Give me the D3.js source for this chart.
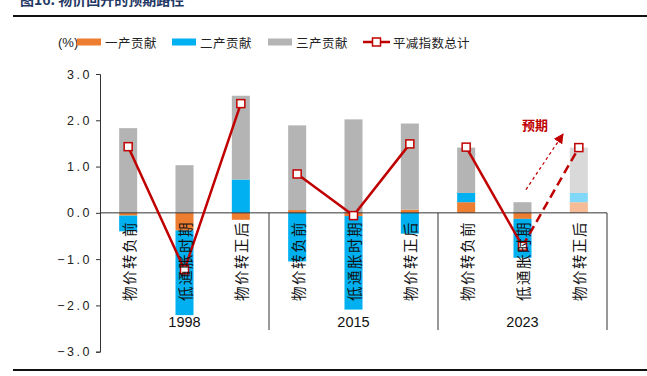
<!DOCTYPE html>
<html><head><meta charset="utf-8">
<script src="https://cdn.jsdelivr.net/npm/d3@7"></script>
<style>
html,body{margin:0;padding:0;background:#fff;}
svg{display:block;}
</style></head>
<body>
<script>
const categories = ["物价转负前","低通胀时期","物价转正后","物价转负前","低通胀时期","物价转正后","物价转负前","低通胀时期","物价转正后"];
const groups = ["1998","2015","2023"];
const primary   = [-0.06, -0.38, -0.15, 0.06, -0.07, 0.07, 0.23, -0.13, 0.23];
const secondary = [-0.34, -1.83,  0.72,-1.05, -2.02,-0.45, 0.20, -0.84, 0.20];
const tertiary  = [ 1.83,  1.03,  1.81, 1.83,  2.02, 1.86, 0.98,  0.23, 0.98];
const deflator  = [ 1.43, -1.23,  2.36, 0.84, -0.06, 1.49, 1.42, -0.72, 1.41];
const yTicks = [-3,-2,-1,0,1,2,3];
const seriesNames = ["一产贡献","二产贡献","三产贡献"];
const lineName = "平减指数总计";
const forecastIndex = 8;
const perGroup = 3;

const W=647,H=376;
const svg=d3.select("body").append("svg").attr("width",W).attr("height",H);
const RED="#C00000";
const colors=["#ED7D31","#00B0F0","#B4B4B4"];
const lightColors=["#F6BC98","#80D7F7","#D9D9D9"];
const cjk="'Noto Sans CJK SC','Noto Sans',sans-serif";

// title
svg.append("text").attr("x",20).attr("y",5).attr("font-family",cjk).attr("font-weight","bold")
  .attr("font-size",14).attr("fill","#1F3864").text("图16:  物价回升的预期路径");
svg.append("line").attr("x1",13).attr("x2",W).attr("y1",16).attr("y2",16).attr("stroke","#111").attr("stroke-width",2);
svg.append("line").attr("x1",13).attr("x2",W).attr("y1",370).attr("y2",370).attr("stroke","#111").attr("stroke-width",2);

const x=d3.scaleBand().domain(d3.range(categories.length)).range([100,607]).paddingInner(0.68).paddingOuter(0.34);
const y=d3.scaleLinear().domain([-3,3]).range([351.7,74]);

// stack
const rows=categories.map((c,i)=>({i,a:primary[i],b:secondary[i],c:tertiary[i]}));
const stack=d3.stack().keys(["a","b","c"]).offset(d3.stackOffsetDiverging)(rows);
stack.forEach((s,k)=>{
  svg.append("g").selectAll("rect").data(s).join("rect")
    .attr("x",d=>x(d.data.i)).attr("width",x.bandwidth())
    .attr("y",d=>y(Math.max(d[0],d[1]))).attr("height",d=>Math.abs(y(d[0])-y(d[1])))
    .attr("fill",d=>d.data.i===forecastIndex?lightColors[k]:colors[k]);
});

// axis
const ax=svg.append("g").attr("transform","translate(100,0)")
  .call(d3.axisLeft(y).tickValues(yTicks).tickSize(4).tickPadding(6).tickFormat(d=>d3.format(".1f")(d)));
ax.select(".domain").attr("stroke","#333");
ax.selectAll(".tick line").attr("stroke","#333");
ax.selectAll("text").attr("font-family","'Liberation Sans',Arial,sans-serif").attr("font-size",12.5)
  .attr("fill","#222").attr("letter-spacing","2.5px").attr("dx","2");

// zero line and separators
svg.append("line").attr("x1",100).attr("x2",x.range()[1]).attr("y1",y(0)).attr("y2",y(0)).attr("stroke","#333").attr("stroke-width",1);
const step=x.step();
[3,6,9].forEach(n=>{
  const xx=100+n*step;
  svg.append("line").attr("x1",xx).attr("x2",xx).attr("y1",y(0)).attr("y2",330).attr("stroke","#333").attr("stroke-width",1);
});

// line (segmented per group; last segment dashed = forecast)
const cx=i=>x(i)+x.bandwidth()/2;
const lineGen=d3.line().x(d=>cx(d.i)).y(d=>y(d.v));
const pts=deflator.map((v,i)=>({i,v}));
groups.forEach((g,k)=>{
  const seg=pts.slice(k*perGroup,(k+1)*perGroup).filter(d=>d.i<forecastIndex);
  svg.append("path").attr("d",lineGen(seg)).attr("fill","none").attr("stroke",RED).attr("stroke-width",2.5);
});
svg.append("path").attr("d",lineGen(pts.slice(forecastIndex-1,forecastIndex+1))).attr("fill","none")
  .attr("stroke",RED).attr("stroke-width",2.5).attr("stroke-dasharray","9,5");

// forecast arrow annotation
const defs=svg.append("defs");
defs.append("marker").attr("id","arr").attr("viewBox","0 0 10 10").attr("refX",9).attr("refY",5)
  .attr("markerWidth",10).attr("markerHeight",10).attr("markerUnits","userSpaceOnUse").attr("orient","auto")
  .append("path").attr("d","M0,0L10,5L0,10Z").attr("fill",RED);
const ax0=cx(7)+3.5, ay0=y(0.5), ax1=cx(7)+40.5, ay1=y(1.7);
svg.append("line").attr("x1",ax0).attr("y1",ay0).attr("x2",ax1).attr("y2",ay1)
  .attr("stroke",RED).attr("stroke-width",1.3).attr("stroke-dasharray","3,3").attr("marker-end","url(#arr)");
svg.append("text").attr("x",cx(7)+12.5).attr("y",y(1.9)).attr("text-anchor","middle").attr("dominant-baseline","central")
  .attr("font-family",cjk).attr("font-weight","bold").attr("font-size",13).attr("fill",RED).text("预期");

// markers
svg.append("g").selectAll("rect").data(pts).join("rect")
  .attr("x",d=>cx(d.i)-4).attr("y",d=>y(d.v)-4).attr("width",8).attr("height",8)
  .attr("fill","#fff").attr("stroke",RED).attr("stroke-width",1.5);

// category labels
svg.append("g").selectAll("text").data(categories).join("text")
  .attr("transform",(d,i)=>`translate(${cx(i)},${222}) rotate(-90)`)
  .attr("text-anchor","end").attr("dominant-baseline","central").attr("dx","1")
  .attr("font-family",cjk).attr("font-size",14.5).attr("letter-spacing","1.5px").attr("fill","#111").text(d=>d);

// group labels
groups.forEach((g,k)=>{
  svg.append("text").attr("x",cx(k*perGroup+1)).attr("y",326.5).attr("text-anchor","middle")
    .attr("font-family","'Liberation Sans',Arial,sans-serif").attr("font-size",14.5).attr("fill","#111").text(g);
});

// legend
const lg=svg.append("g").attr("font-family",cjk).attr("font-size",12.5).attr("fill","#222");
lg.append("text").attr("x",58).attr("y",42).attr("dominant-baseline","central").attr("font-family","'Liberation Sans',Arial,sans-serif").attr("font-size",13).text("(%)");
const lx=[77,172,268];
seriesNames.forEach((n,k)=>{
  lg.append("rect").attr("x",lx[k]).attr("y",38.5).attr("width",24).attr("height",7).attr("fill",colors[k]);
  lg.append("text").attr("x",lx[k]+28).attr("y",42).attr("dominant-baseline","central").attr("letter-spacing","0.5px").text(n);
});
lg.append("line").attr("x1",363).attr("x2",390).attr("y1",42).attr("y2",42).attr("stroke",RED).attr("stroke-width",2.5);
lg.append("rect").attr("x",372.5).attr("y",38).attr("width",8).attr("height",8).attr("fill","#fff").attr("stroke",RED).attr("stroke-width",1.5);
lg.append("text").attr("x",393).attr("y",42).attr("dominant-baseline","central").attr("letter-spacing","0.3px").text(lineName);
</script>
</body></html>
